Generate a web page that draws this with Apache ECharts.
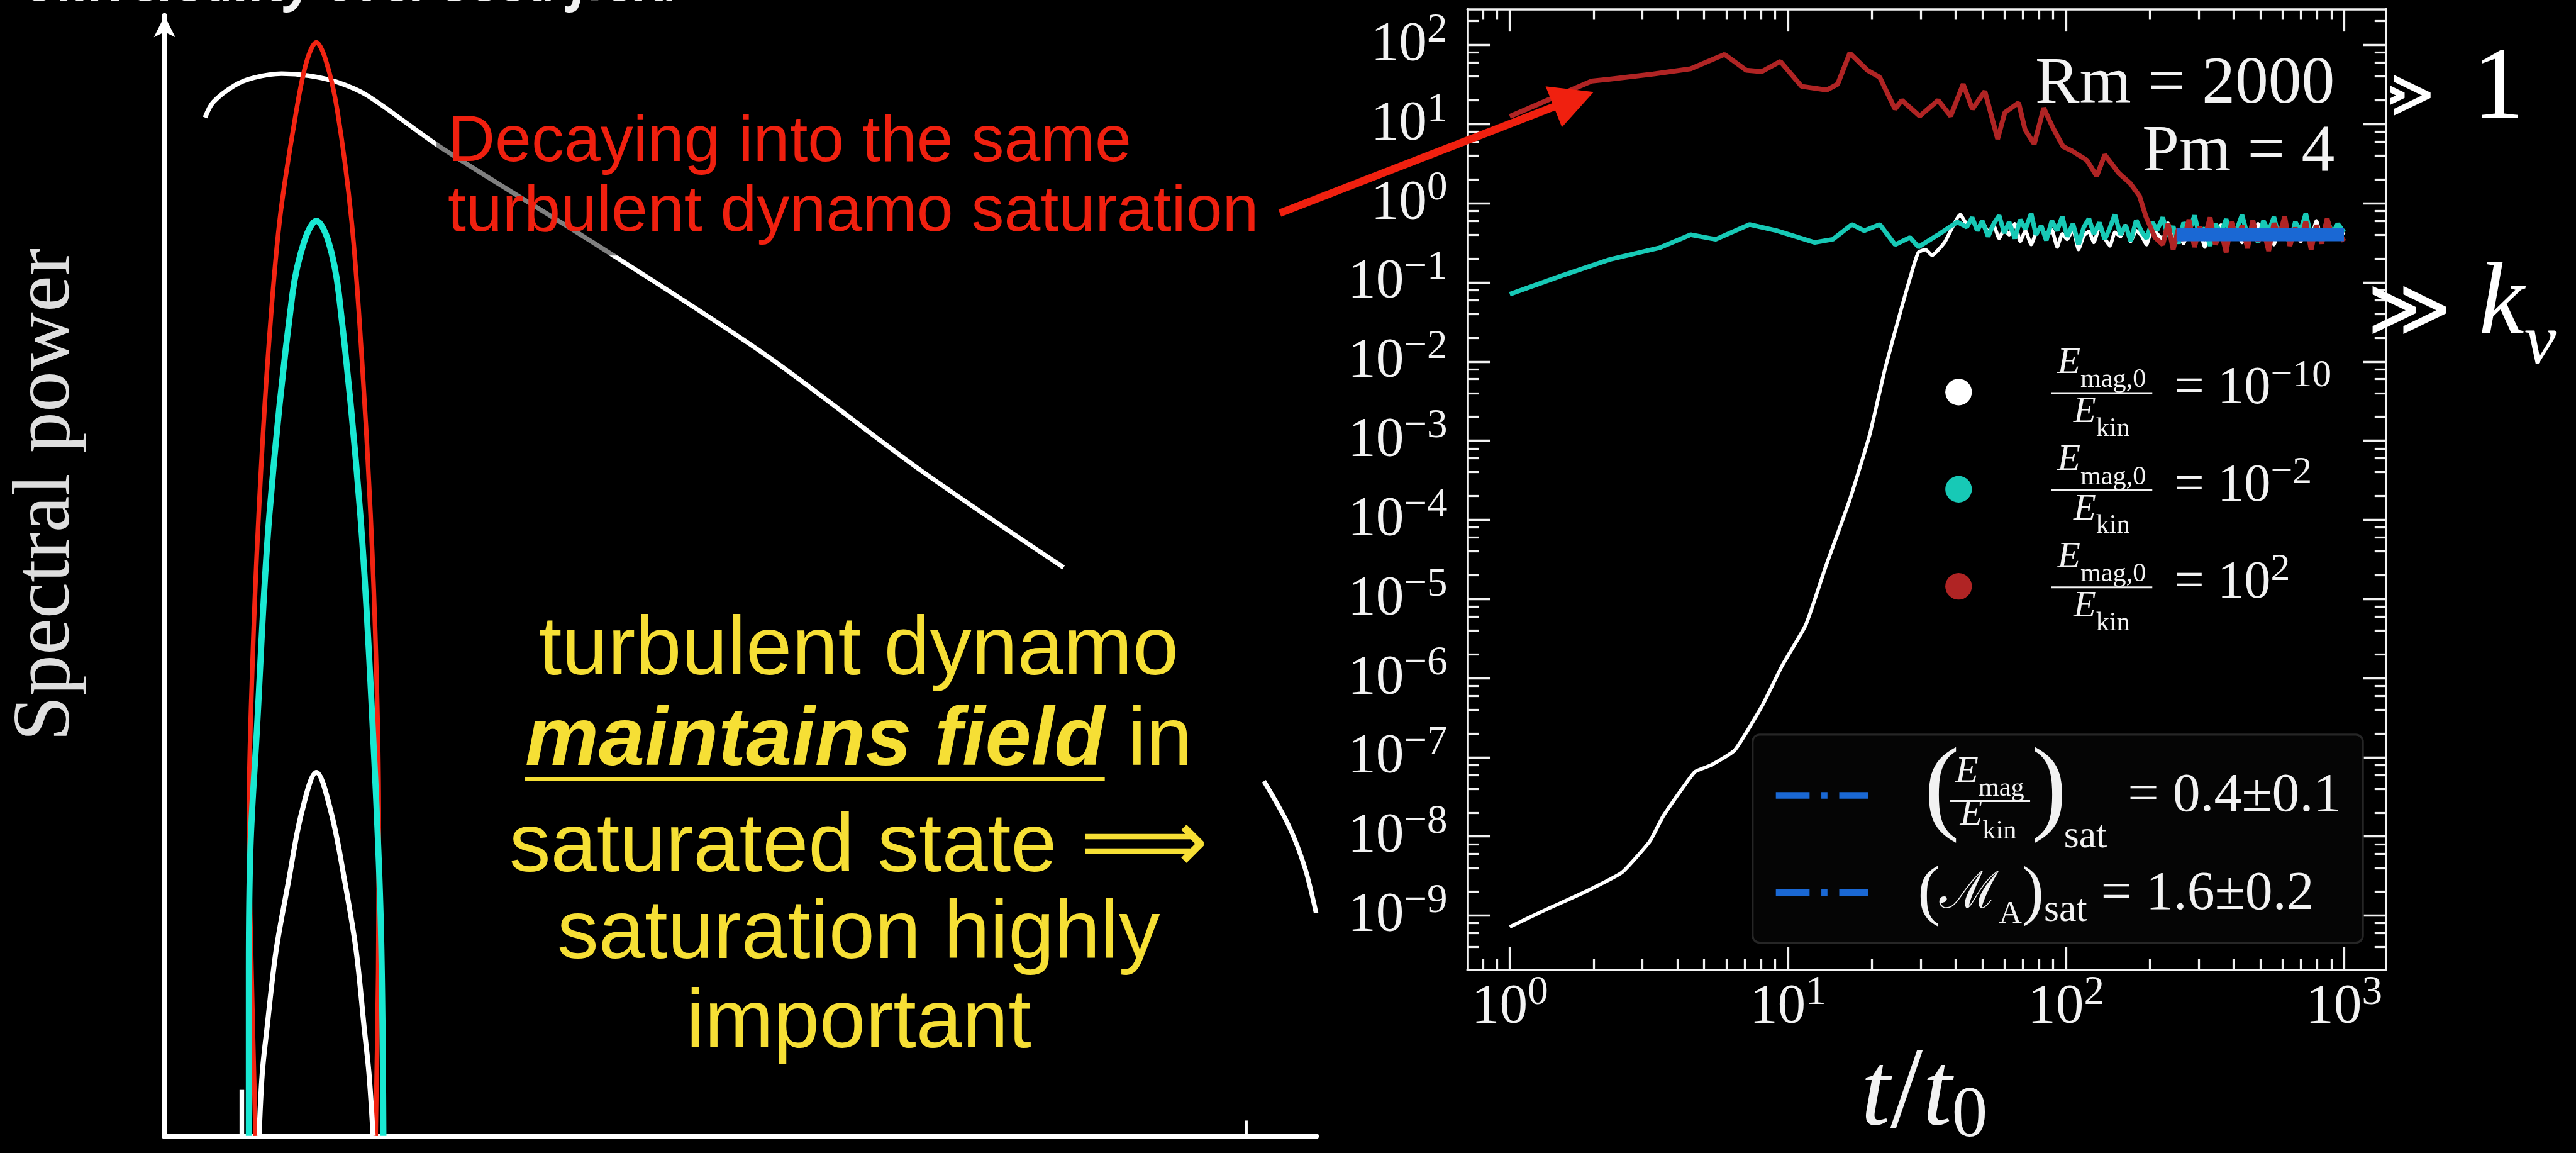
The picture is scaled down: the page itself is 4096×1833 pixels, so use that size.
<!DOCTYPE html>
<html>
<head>
<meta charset="utf-8">
<title>Universality over seed field</title>
<script src="https://cdn.jsdelivr.net/npm/echarts@6.0.0/dist/echarts.min.js"></script>
<style>
html,body{margin:0;padding:0;background:#000;overflow:hidden;}
#chart{width:4096px;height:1833px;}
</style>
</head>
<body>
<div id="chart"></div>
<script>
// ================= DATA =================
// Left schematic panel (arbitrary units: wavenumber 0-100 along x, spectral power 0-100 along y)
const spectrumK = [3.51, 4.22, 6.08, 7.77, 10.16, 12.52, 14.91, 17.62, 23.97, 37.24, 51.98, 65.60, 78.07, null, 95.47, 97.60, 99.02, 100.0];
const spectrumP = [90.92, 92.29, 93.79, 94.48, 94.84, 94.66, 94.11, 92.88, 88.27, 79.74, 69.88, 59.47, 50.75, null, 31.67, 27.75, 23.96, 19.90];
const archRedK = [7.90, 7.55, 7.32, 7.63, 8.17, 8.97, 9.99, 11.45, 12.34, 13.18, 14.03, 15.00, 16.24, 17.13, 17.89, 18.38, 18.60, 18.55, 18.33];
const archRedP = [0, 14.70, 28.39, 42.08, 55.45, 69.47, 81.70, 91.56, 95.94, 97.63, 95.94, 91.56, 81.70, 69.47, 55.45, 42.08, 29.16, 14.70, 0];
const archCyanK = [7.32, 7.32, 7.46, 7.99, 9.10, 11.10, 12.16, 13.18, 14.20, 15.14, 17.00, 18.11, 18.77, 19.00];
const archCyanP = [0, 14.70, 25.83, 35.74, 55.45, 75.13, 79.96, 81.70, 79.96, 75.13, 55.45, 35.74, 19.26, 0];
const archWhiteK = [8.21, 8.48, 8.88, 9.68, 10.74, 11.90, 13.18, 14.47, 15.67, 16.64, 17.35, 17.75, 18.11];
const archWhiteP = [0, 5.57, 9.49, 16.52, 22.59, 28.85, 32.45, 28.85, 22.59, 16.52, 9.49, 5.57, 0];
const leftAxisTicks = [6.70, 93.92];

// Right panel: E_mag/E_kin vs t/t0
const whiteT = [1, 1.35, 1.87, 2.53, 3.19, 3.56, 4.62, 5.27, 6.44, 8.09, 9.55, 11.6, 13.7, 16.7, 19.7, 22.4, 25.6, 28.3, 29.5, 31.3, 33.0, 36.6, 41.7];
const whiteE = [7.2e-10, 1.19e-9, 2.0e-9, 3.5e-9, 8.7e-9, 1.8e-8, 6.5e-8, 7.9e-8, 1.23e-7, 4.5e-7, 1.45e-6, 4.7e-6, 2.6e-5, 1.8e-4, 1.2e-3, 8.3e-3, 0.047, 0.16, 0.24, 0.26, 0.22, 0.32, 0.72];
const cyanT = [1, 1.52, 2.29, 3.47, 4.47, 5.50, 7.28, 9.12, 12.5, 14.5, 17.0, 18.8, 21.4, 24.3, 27.5, 29.5, 34.7, 40.7];
const cyanE = [0.071, 0.12, 0.195, 0.275, 0.40, 0.35, 0.54, 0.45, 0.32, 0.35, 0.54, 0.45, 0.54, 0.30, 0.37, 0.28, 0.40, 0.58];
const redT = [1, 1.97, 2.29, 3.29, 4.47, 5.92, 7.08, 8.05, 9.40, 11.2, 13.8, 15.1, 16.7, 19.3, 21.4, 24.3, 25.7, 29.8, 34.7, 38.5, 42.7, 46.1, 51.1, 56.8, 60.3, 67.6, 71.3, 76.9, 83.2, 89.9, 97.7, 105, 119, 129, 138, 155, 170, 184, 194, 209];
const redE = [12.5, 35, 37, 43, 50, 76, 48, 46, 62, 30, 27, 32, 79, 48, 39, 15.5, 20, 12.6, 20, 12.6, 32, 15.5, 26, 6.5, 14, 18.6, 8.5, 5.6, 16, 8.9, 5.2, 4.6, 3.5, 2.2, 4.1, 2.4, 1.8, 1.23, 0.68, 0.37];
// saturated (noisy) phase
const satT = [44, 46, 48, 50, 52.5, 55, 57.5, 60, 62.5, 65.5, 68.5, 71.5, 75, 78, 81.5, 85, 89, 93, 97, 101, 106, 111, 116, 121, 126, 132, 138, 144, 150, 157, 164, 171, 179, 187, 195, 204, 213, 223, 233, 243, 254, 265, 277, 290, 303, 316, 330, 345, 361, 377, 394, 412, 430, 450, 470, 491, 513, 536, 560, 585, 612, 639, 668, 698, 729, 762, 796, 832, 870, 909, 950, 1000];
const whiteSatE = [0.55,0.62,0.48,0.58,0.44,0.52,0.36,0.47,0.40,0.55,0.33,0.45,
  0.30,0.42,0.50,0.38,0.46,0.28,0.41,0.35,0.47,0.26,0.39,0.44,
  0.32,0.50,0.36,0.29,0.43,0.38,0.52,0.33,0.45,0.39,0.30,0.48,
  0.41,0.35,0.56,0.37,0.44,0.31,0.49,0.36,0.42,0.28,0.46,0.39,
  0.53,0.34,0.41,0.47,0.32,0.44,0.38,0.55,0.35,0.43,0.30,0.48,
  0.40,0.36,0.51,0.33,0.45,0.38,0.60,0.34,0.42,0.37,0.49,0.40];
const cyanSatE = [0.50,0.66,0.45,0.60,0.38,0.55,0.70,0.42,0.58,0.36,0.62,0.47,
  0.74,0.40,0.52,0.34,0.60,0.45,0.68,0.38,0.55,0.30,0.50,0.64,
  0.41,0.57,0.35,0.49,0.72,0.40,0.53,0.33,0.61,0.44,0.36,0.58,
  0.46,0.66,0.38,0.51,0.31,0.57,0.43,0.70,0.37,0.49,0.29,0.55,
  0.42,0.63,0.35,0.47,0.71,0.39,0.53,0.32,0.60,0.44,0.67,0.36,
  0.51,0.30,0.58,0.45,0.74,0.38,0.52,0.34,0.62,0.41,0.55,0.43];
const redSatT = [223, 233, 243, 254, 265, 277, 290, 303, 316, 330, 345, 361, 377, 394, 412, 430, 450, 470, 491, 513, 536, 560, 585, 612, 639, 668, 698, 729, 762, 796, 832, 870, 909, 950, 1000];
const redSatE = [0.30,0.55,0.26,0.48,0.34,0.62,0.28,0.50,0.37,0.66,0.30,0.45,
  0.24,0.58,0.35,0.52,0.27,0.61,0.33,0.47,0.25,0.56,0.38,0.68,
  0.29,0.49,0.34,0.59,0.26,0.53,0.31,0.64,0.36,0.45,0.33];
const satLevelT = [250, 1000];
const satLevelE = [0.4, 0.4];
// tick labels (powers of ten)
const xTickExp = [0, 1, 2, 3];
const yTickExp = [-9, -8, -7, -6, -5, -4, -3, -2, -1, 0, 1, 2];
const legendExp = ['\u221210', '\u22122', '2'];

// ================= LAYOUT =================
const S = 4096 / 5040;
const s = v => v * S;
const SERIF = 'Liberation Serif';
const SANS = 'Liberation Sans';
const FG = '#f2f2f2';
const RED_LINE = '#b02424', CYAN_LINE = '#17c9b6', WHITE_LINE = '#ffffff', BLUE = '#1a68d4';
const XMIN = -0.1526, XMAX = 3.1507, YMIN = -9.6847, YMAX = 2.454;

const pairs = (xs, ys) => xs.map((x, i) => [x, ys[i]]);
const logPairs = (ts, vs) => ts.map((t, i) => [Math.log10(t), Math.log10(vs[i])]);
function splitNull(xs, ys) {
  const parts = [[]];
  xs.forEach((x, i) => { if (x == null) parts.push([]); else parts[parts.length - 1].push([x, ys[i]]); });
  return parts;
}
const specParts = splitNull(spectrumK, spectrumP);

const xMinor = [];
for (let n = -1; n <= 3; n++) for (let k = 2; k <= 9; k++) { const v = n + Math.log10(k); if (v > XMIN && v < XMAX) xMinor.push(v); }
const yMinor = [];
for (let n = -10; n <= 2; n++) for (const k of [2, 4, 6, 8]) { const v = n + Math.log10(k); if (v > YMIN && v < YMAX) yMinor.push(v); }

const tickRich = {
  b: { fontFamily: SERIF, fontSize: s(110), lineHeight: s(136), color: FG },
  p: { fontFamily: SERIF, fontSize: s(80), lineHeight: s(80), verticalAlign: 'top', color: FG }
};
const expFmt = v => { const n = Math.round(v); return '{b|10}{p|' + (n < 0 ? '\u2212' + (-n) : n) + '}'; };

function rx(pos, major, showLine) {
  return {
    gridIndex: 1, type: 'value', position: pos, min: XMIN, max: XMAX,
    axisLine: { show: showLine, onZero: false, lineStyle: { color: FG, width: s(4.5) } },
    axisTick: { show: true, inside: true, customValues: major ? xTickExp : xMinor, length: s(major ? 44 : 21), lineStyle: { color: FG, width: s(4) } },
    axisLabel: (major && pos === 'bottom') ? { show: true, customValues: xTickExp, margin: s(6), formatter: expFmt, rich: tickRich } : { show: false },
    splitLine: { show: false }
  };
}
function ry(pos, major, showLine) {
  return {
    gridIndex: 1, type: 'value', position: pos, min: YMIN, max: YMAX,
    axisLine: { show: showLine, onZero: false, lineStyle: { color: FG, width: s(4.5) } },
    axisTick: { show: true, inside: true, customValues: major ? yTickExp : yMinor, length: s(major ? 44 : 22), lineStyle: { color: FG, width: s(4) } },
    axisLabel: (major && pos === 'left') ? { show: true, customValues: yTickExp, margin: s(39), formatter: expFmt, rich: tickRich } : { show: false },
    splitLine: { show: false }
  };
}

function lineSeries(name, data, color, width, xi, yi, extra) {
  return Object.assign({
    type: 'line', name, data, xAxisIndex: xi, yAxisIndex: yi, symbol: 'none', showSymbol: false,
    lineStyle: { color, width: s(width) }, itemStyle: { color }, color, silent: true, animation: false
  }, extra || {});
}

// text helpers
function T(x, y, text, st, align, extra) {
  align = align || 'left';
  return Object.assign({
    type: 'text', x: s(x), y: s(y), z: 100, silent: true,
    style: Object.assign({ text, fill: FG, align, textAlign: align, verticalAlign: 'middle', textVerticalAlign: 'middle' }, st)
  }, extra || {});
}
const L = (x1, y1, x2, y2, color, w, z) => ({ type: 'line', z: z || 100, silent: true, shape: { x1: s(x1), y1: s(y1), x2: s(x2), y2: s(y2) }, style: { stroke: color, lineWidth: s(w) } });
function fracRich(F, fs) {
  return {
    e: { fontFamily: SERIF, fontStyle: 'italic', fontSize: s(F), lineHeight: s(F * 1.3), verticalAlign: 'top', fill: FG, color: FG },
    s: { fontFamily: SERIF, fontSize: s(fs), lineHeight: s(fs), verticalAlign: 'bottom', fill: FG, color: FG }
  };
}
const eqRich = {
  n: { fontFamily: SERIF, fontSize: s(104), lineHeight: s(130), fill: FG, color: FG },
  p: { fontFamily: SERIF, fontSize: s(76), lineHeight: s(76), verticalAlign: 'top', fill: FG, color: FG }
};

// measure for underline
const mctx = document.createElement('canvas').getContext('2d');
function mw(font, text) { mctx.font = font; return mctx.measureText(text).width; }
const YEL = '#f6df35', REDTXT = '#f0200f';
const yF = s(162);
const wB = mw('italic bold ' + yF + 'px "' + SANS + '"', 'maintains field');
const wR = mw(yF + 'px "' + SANS + '"', ' in');
const ulStart = s(1680) - (wB + wR) / 2;

const graphics = [];
// cut-off slide title
graphics.push(T(46, -27, 'Universality over seed field', { fontFamily: 'Open Sans', fontStyle: 'italic', fontWeight: 'bold', fontSize: s(100) }));
// Spectral power (rotated)
graphics.push({ type: 'text', x: s(92), y: s(968), rotation: Math.PI / 2, z: 100, silent: true,
  style: { text: 'Spectral power', fill: '#dedede', fontFamily: SERIF, fontSize: s(160), align: 'center', textAlign: 'center', verticalAlign: 'middle', textVerticalAlign: 'middle' } });
// dimming box behind red text
graphics.push({ type: 'rect', z: 50, silent: true, shape: { x: s(854), y: s(215), width: s(2480 - 854), height: s(285) }, style: { fill: 'rgba(0,0,0,0.5)' } });
graphics.push(T(876, 280, 'Decaying into the same', { fill: REDTXT, fontFamily: SANS, fontSize: s(128) }));
graphics.push(T(876, 416, 'turbulent dynamo saturation', { fill: REDTXT, fontFamily: SANS, fontSize: s(128) }));
// red arrow
graphics.push(L(2504, 417, 3045, 207, REDTXT, 15, 120));
graphics.push({ type: 'polygon', z: 120, silent: true, shape: { points: [[s(3024), s(169)], [s(3118), s(180)], [s(3056), s(249)]] }, style: { fill: REDTXT } });
// yellow text block
const yStyle = { fill: YEL, fontFamily: SANS, fontSize: yF };
graphics.push(T(1680, 1275, 'turbulent dynamo', yStyle, 'center'));
graphics.push(T(1680, 1452, '{b|maintains field}{r| in}', {
  fill: YEL, fontFamily: SANS, fontSize: yF,
  rich: { b: { fontFamily: SANS, fontSize: yF, fontStyle: 'italic', fontWeight: 'bold', fill: YEL, color: YEL },
          r: { fontFamily: SANS, fontSize: yF, fill: YEL, color: YEL } } }, 'center'));
graphics.push({ type: 'line', z: 100, silent: true, shape: { x1: ulStart, y1: s(1524), x2: ulStart + wB, y2: s(1524) }, style: { stroke: YEL, lineWidth: s(7) } });
graphics.push(T(1680, 1660, '{t|saturated state }{a|\u27F9}', {
  fill: YEL, fontFamily: SANS, fontSize: yF,
  rich: { t: { fontFamily: SANS, fontSize: yF, fill: YEL, color: YEL },
          a: { fontFamily: 'DejaVu Sans', fontSize: s(175), fill: YEL, color: YEL } } }, 'center'));
graphics.push(T(1680, 1829, 'saturation highly', yStyle, 'center'));
graphics.push(T(1680, 2004, 'important', yStyle, 'center'));
// Rm, Pm
graphics.push(T(4568, 167, 'Rm = 2000', { fontFamily: SERIF, fontSize: s(130) }, 'right'));
graphics.push(T(4568, 299, 'Pm = 4', { fontFamily: SERIF, fontSize: s(130) }, 'right'));
// >> 1 and >> k_nu
graphics.push(T(4765, 194, '\u226B', { fontFamily: 'DejaVu Sans', fontSize: s(135), fill: '#ffffff' }, 'right', { z: -2 }));
graphics.push({ type: 'rect', z: -1, silent: true, shape: { x: s(4630), y: s(120), width: s(47), height: s(150) }, style: { fill: '#000' } });
graphics.push(T(4838, 177, '1', { fontFamily: SERIF, fontSize: s(200), fill: '#ffffff' }));
graphics.push(T(4798, 616, '\u226B', { fontFamily: 'DejaVu Sans', fontSize: s(160), fill: '#ffffff' }, 'right'));
graphics.push(T(4850, 600, '{k|k}{v|\u03BD}', {
  fill: '#fff', rich: { k: { fontFamily: SERIF, fontStyle: 'italic', fontSize: s(200), lineHeight: s(290), fill: '#fff', color: '#fff' },
                         v: { fontFamily: SERIF, fontStyle: 'italic', fontSize: s(140), lineHeight: s(140), verticalAlign: 'bottom', fill: '#fff', color: '#fff' } } }));
// legend 1 labels (fractions)
for (let i = 0; i < 3; i++) {
  const dy = 190 * i;
  graphics.push(T(4112, 721 + dy, '{e|E}{s|mag,0}', { rich: fracRich(74, 52) }, 'center'));
  graphics.push(L(4013, 769 + dy, 4211, 769 + dy, FG, 3.5));
  graphics.push(T(4112, 818 + dy, '{e|E}{s|kin}', { rich: fracRich(72, 52) }, 'center'));
  graphics.push(T(4254, 762 + dy, '{n|= 10}{p|' + legendExp[i] + '}', { rich: eqRich }));
}
// legend 2 labels
graphics.push(T(3765, 1550, '(', { fontFamily: SERIF, fontSize: s(206) }));
graphics.push(T(3975, 1550, ')', { fontFamily: SERIF, fontSize: s(206) }));
graphics.push(T(3893, 1521, '{e|E}{s|mag}', { rich: fracRich(74, 52) }, 'center'));
graphics.push(L(3815, 1567, 3972, 1567, FG, 3.5));
graphics.push(T(3890, 1605, '{e|E}{s|kin}', { rich: fracRich(72, 52) }, 'center'));
graphics.push(T(4038, 1637, 'sat', { fontFamily: SERIF, fontSize: s(76) }));
graphics.push(T(4163, 1558, '= 0.4\u00B10.1', { fontFamily: SERIF, fontSize: s(108) }));
graphics.push(T(3752, 1750, '{p|(}{m|\u2133}{a|A}{p|)}{s|sat}{n| = 1.6\u00B10.2}', {
  rich: {
    p: { fontFamily: SERIF, fontSize: s(130), lineHeight: s(140), fill: FG, color: FG },
    m: { fontFamily: 'DejaVu Serif', fontSize: s(100), lineHeight: s(140), fill: FG, color: FG },
    a: { fontFamily: SERIF, fontSize: s(62), lineHeight: s(62), verticalAlign: 'bottom', fill: FG, color: FG },
    s: { fontFamily: SERIF, fontSize: s(76), lineHeight: s(76), verticalAlign: 'bottom', fill: FG, color: FG },
    n: { fontFamily: SERIF, fontSize: s(108), lineHeight: s(140), fill: FG, color: FG }
  } }));
// x axis title t/t0
graphics.push(T(3765, 2145, '{i|t}{n|/}{i|t}{s|0}', {
  rich: {
    i: { fontFamily: SERIF, fontStyle: 'italic', fontSize: s(205), lineHeight: s(220), fill: FG, color: FG },
    n: { fontFamily: SERIF, fontSize: s(230), lineHeight: s(220), fill: FG, color: FG },
    s: { fontFamily: SERIF, fontSize: s(140), lineHeight: s(140), verticalAlign: 'bottom', fill: FG, color: FG }
  } }, 'center'));

const option = {
  backgroundColor: '#000',
  animation: false,
  grid: [
    { left: s(322), top: s(31), width: s(2253), height: s(2191), containLabel: false, outerBoundsMode: 'none' },
    { left: s(2871), top: s(17.7), width: s(1797), height: s(1879.3), containLabel: false, outerBoundsMode: 'none' }
  ],
  xAxis: [
    { gridIndex: 0, type: 'value', min: 0, max: 100, position: 'bottom',
      axisLine: { show: true, onZero: false, lineStyle: { color: '#fff', width: s(11) } },
      axisTick: { show: true, inside: true, customValues: [leftAxisTicks[0]], length: s(90), lineStyle: { color: '#fff', width: s(9) } },
      axisLabel: { show: false }, splitLine: { show: false } },
    { gridIndex: 0, type: 'value', min: 0, max: 100, position: 'bottom',
      axisLine: { show: false, onZero: false },
      axisTick: { show: true, inside: true, customValues: [leftAxisTicks[1]], length: s(30), lineStyle: { color: '#fff', width: s(6) } },
      axisLabel: { show: false }, splitLine: { show: false } },
    rx('bottom', true, true), rx('bottom', false, false), rx('top', true, true), rx('top', false, false)
  ],
  yAxis: [
    { gridIndex: 0, type: 'value', min: 0, max: 100, position: 'left',
      axisLine: { show: true, onZero: false, symbol: ['none', 'arrow'], symbolSize: [s(31.5), s(42)], lineStyle: { color: '#fff', width: s(11) } },
      axisTick: { show: false }, axisLabel: { show: false }, splitLine: { show: false } },
    ry('left', true, true), ry('left', false, false), ry('right', true, true), ry('right', false, false)
  ],
  legend: [
    { data: ['Emag0/Ekin = 1e-10', 'Emag0/Ekin = 1e-2', 'Emag0/Ekin = 1e2'], orient: 'vertical', icon: 'circle',
      left: s(3806), top: s(741), itemWidth: s(52), itemHeight: s(52), itemGap: s(138), padding: 0,
      formatter: () => '', selectedMode: false, textStyle: { fontSize: 1, color: 'rgba(0,0,0,0)' } },
    { data: ['(Emag/Ekin)sat', '(MA)sat'], orient: 'vertical',
      left: s(3429), top: s(1437), itemWidth: s(180), itemHeight: s(14), itemGap: s(177),
      padding: [s(112), s(962), s(91), s(39)], backgroundColor: '#050505', borderColor: '#262626', borderWidth: s(4), borderRadius: s(14),
      lineStyle: { color: BLUE, width: s(13), type: [s(66), s(23), s(12), s(23)] }, itemStyle: { opacity: 0 },
      formatter: () => '', selectedMode: false, textStyle: { fontSize: 1, color: 'rgba(0,0,0,0)' } }
  ],
  series: [
    lineSeries('spectrum', specParts[0], '#ffffff', 9, 0, 0, { smooth: 0.3 }),
    lineSeries('spectrum tail', specParts[1], '#ffffff', 9, 0, 0, { smooth: 0.3 }),
    lineSeries('seed 1e2 spectrum', pairs(archRedK, archRedP), '#f22412', 9, 0, 0, { smooth: 0.35 }),
    lineSeries('seed 1e-10 spectrum', pairs(archWhiteK, archWhiteP), '#ffffff', 10, 0, 0, { smooth: 0.35 }),
    lineSeries('seed 1e-2 spectrum', pairs(archCyanK, archCyanP), '#19e8d2', 12, 0, 0, { smooth: 0.35 }),
    lineSeries('Emag0/Ekin = 1e-10', logPairs(whiteT, whiteE).concat(logPairs(satT, whiteSatE)), WHITE_LINE, 7, 2, 1, { smooth: 0.15 }),
    lineSeries('Emag0/Ekin = 1e-2', logPairs(cyanT, cyanE).concat(logPairs(satT, cyanSatE)), CYAN_LINE, 9, 2, 1),
    lineSeries('Emag0/Ekin = 1e2', logPairs(redT, redE).concat(logPairs(redSatT, redSatE)), RED_LINE, 9.5, 2, 1),
    lineSeries('(Emag/Ekin)sat', logPairs(satLevelT, satLevelE), BLUE, 25, 2, 1),
    lineSeries('(MA)sat', [], BLUE, 13, 2, 1)
  ],
  graphic: { elements: graphics }
};

const chart = echarts.init(document.getElementById('chart'), null, { renderer: 'canvas', width: 4096, height: 1833 });
chart.setOption(option);
</script>
</body>
</html>
